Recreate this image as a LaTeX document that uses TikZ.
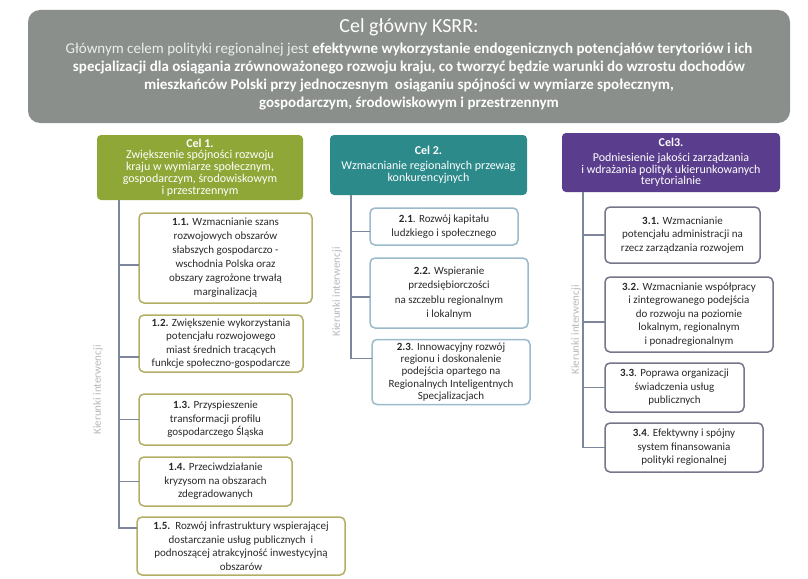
\documentclass[tikz,border=0pt]{standalone}
\usepackage{fontspec}
\setmainfont{Carlito}
\definecolor{topgray}{HTML}{8A8F8B}
\definecolor{goalgreen}{HTML}{8FA736}
\definecolor{goalteal}{HTML}{2C8A8B}
\definecolor{goalpurple}{HTML}{5A3D8C}
\definecolor{bordA}{HTML}{B3AE66}
\definecolor{bordB}{HTML}{9BBACA}
\definecolor{bordC}{HTML}{76768A}
\definecolor{connc}{HTML}{7E869E}
\definecolor{labc}{HTML}{B8B8B8}
\definecolor{kidtext}{HTML}{2A2A2A}
\begin{document}
\begin{tikzpicture}[x=1pt,y=-1pt,
  every node/.style={inner sep=0pt,outer sep=0pt},
  goalbox/.style={rounded corners=4pt,text=white,align=center,font=\fontsize{12}{11.8}\selectfont},
  kid/.style={draw,fill=white,rounded corners=5pt,align=center,text=kidtext,line width=1.5pt,font=\fontsize{11}{13.5}\selectfont},
  kidA/.style={kid,draw=bordA},
  kidB/.style={kid,draw=bordB},
  kidC/.style={kid,draw=bordC},
  conn/.style={draw=connc,line width=1.3pt},
  vlab/.style={rotate=90,text=labc,font=\fontsize{11}{12}\selectfont}
]
\useasboundingbox (0,0) rectangle (808,578);
\fill[white] (0,0) rectangle (808,578);

% main goal
\node[fill=topgray,rounded corners=12pt,minimum width=762pt,minimum height=113pt] (top) at (409,66.5) {};
\node[text=white,font=\fontsize{20}{22}\selectfont] (title) at (409,27) {Cel główny KSRR:};
\node[text=white,align=center,font=\fontsize{15}{18}\selectfont] (body) at (409,77)
{{\color{white!85!topgray}Głównym celem polityki regionalnej jest} \textbf{efektywne wykorzystanie endogenicznych potencjałów terytoriów i ich}\\
\textbf{specjalizacji dla osiągania zrównoważonego rozwoju kraju, co tworzyć będzie warunki do wzrostu dochodów}\\
\textbf{mieszkańców Polski przy jednoczesnym\ \ osiąganiu spójności w wymiarze społecznym,}\\
\textbf{gospodarczym, środowiskowym i przestrzennym}};

% goals
\node[goalbox,fill=goalgreen,minimum width=206pt,minimum height=65pt] (g1) at (200,167.5)
{\textbf{Cel 1.}\\Zwiększenie spójności rozwoju\\kraju w wymiarze społecznym,\\gospodarczym, środowiskowym\\i przestrzennym};
\node[goalbox,fill=goalteal,minimum width=197pt,minimum height=60pt] (g2) at (428.5,165)
{\textbf{Cel 2.}\\[3pt]Wzmacnianie regionalnych przewag\\konkurencyjnych};
\node[goalbox,fill=goalpurple,minimum width=218pt,minimum height=59pt] (g3) at (671,162.5)
{\textbf{Cel3.}\\[3pt]Podniesienie jakości zarządzania\\i wdrażania polityk ukierunkowanych\\terytorialnie};

% column 1
\node[kidA,minimum width=173pt,minimum height=90pt,font=\fontsize{11}{14}\selectfont] (b11) at (225.5,258)
{\textbf{1.1.} Wzmacnianie szans\\rozwojowych obszarów\\słabszych gospodarczo -\\wschodnia Polska oraz\\obszary zagrożone trwałą\\marginalizacją};
\node[kidA,minimum width=164pt,minimum height=57pt] (b12) at (221,343.5)
{\textbf{1.2.} Zwiększenie wykorzystania\\potencjału rozwojowego\\miast średnich tracących\\funkcje społeczno-gospodarcze};
\node[kidA,minimum width=153pt,minimum height=51pt] (b13) at (215.5,419.5)
{\textbf{1.3.} Przyspieszenie\\transformacji profilu\\gospodarczego Śląska};
\node[kidA,minimum width=153pt,minimum height=49pt] (b14) at (215.5,481.5)
{\textbf{1.4.} Przeciwdziałanie\\kryzysom\ na obszarach\\zdegradowanych};
\node[kidA,minimum width=208pt,minimum height=58pt] (b15) at (241,546)
{\textbf{1.5.}\ \ Rozwój infrastruktury wspierającej\\dostarczanie usług publicznych\ \ i\\podnoszącej atrakcyjność inwestycyjną\\obszarów};

% column 2
\node[kidB,minimum width=148pt,minimum height=37pt] (b21) at (444,226.5)
{\textbf{2.1}. Rozwój kapitału\\ludzkiego i społecznego};
\node[kidB,minimum width=158pt,minimum height=70pt,font=\fontsize{11}{14.5}\selectfont] (b22) at (449,293)
{\textbf{2.2.} Wspieranie\\przedsiębiorczości\\na szczeblu regionalnym\\i lokalnym};
\node[kidB,minimum width=158pt,minimum height=65pt,font=\fontsize{11}{12.3}\selectfont] (b23) at (451,372)
{\textbf{2.3}. Innowacyjny rozwój\\regionu i doskonalenie\\podejścia opartego na\\Regionalnych Inteligentnych\\Specjalizacjach};

% column 3
\node[kidC,minimum width=155pt,minimum height=56pt] (b31) at (682.5,235)
{\textbf{3.1.} Wzmacnianie\\potencjału administracji na\\rzecz zarządzania rozwojem};
\node[kidC,minimum width=168pt,minimum height=75pt] (b32) at (689,314.5)
{\textbf{3.2.} Wzmacnianie współpracy\\i zintegrowanego podejścia\\do rozwoju na poziomie\\lokalnym, regionalnym\\i ponadregionalnym};
\node[kidC,minimum width=139pt,minimum height=49pt] (b33) at (674.5,387.5)
{\textbf{3.3}. Poprawa organizacji\\świadczenia usług\\publicznych};
\node[kidC,minimum width=158pt,minimum height=49pt] (b34) at (684,447.5)
{\textbf{3.4}. Efektywny i spójny\\system finansowania\\polityki regionalnej};

% trunk and branch coordinates
\coordinate (t1) at (119,200);
\coordinate (t2) at (351,195);
\coordinate (t3) at (583,192);
\coordinate (e11) at ([yshift=-7pt]b11.west);
\coordinate (e12) at ([yshift=-13.5pt]b12.west);
\coordinate (e15) at ([yshift=18pt]b15.west);
\coordinate (e21) at ([yshift=-5pt]b21.west);
\coordinate (e22) at ([yshift=-4pt]b22.west);
\coordinate (e23) at ([yshift=13.5pt]b23.west);
\coordinate (e32) at ([yshift=-7.5pt]b32.west);

% connectors
\draw[conn] (t1) |- (e15);
\draw[conn] (t1 |- e11) -- (e11);
\draw[conn] (t1 |- e12) -- (e12);
\draw[conn] (t1 |- b13.west) -- (b13.west);
\draw[conn] (t1 |- b14.west) -- (b14.west);

\draw[conn] (t2) |- (e23);
\draw[conn] (t2 |- e21) -- (e21);
\draw[conn] (t2 |- e22) -- (e22);

\draw[conn] (t3) |- (b34.west);
\draw[conn] (t3 |- b31.west) -- (b31.west);
\draw[conn] (t3 |- e32) -- (e32);
\draw[conn] (t3 |- b33.west) -- (b33.west);

% side labels
\node[vlab] (l1) at (98,390) {Kierunki interwencji};
\node[vlab] (l2) at (337,292) {Kierunki interwencji};
\node[vlab] (l3) at (576,330) {Kierunki interwencji};
\end{tikzpicture}
\end{document}
